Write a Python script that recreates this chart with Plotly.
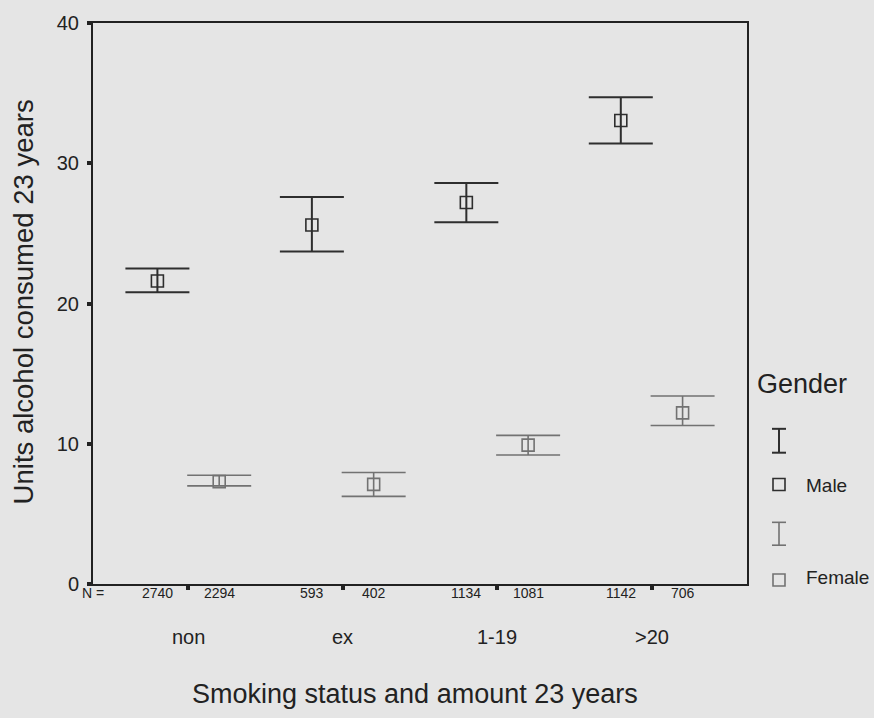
import numpy as np
import plotly.graph_objects as go

# Smoking groups and sample sizes
categories = ["non", "ex", "1-19", ">20"]
n_male = [2740, 593, 1134, 1142]
n_female = [2294, 402, 1081, 706]

# Mean units of alcohol with 95% CI bounds
male_mean = [21.6, 25.6, 27.2, 33.05]
male_lower = [20.8, 23.7, 25.8, 31.4]
male_upper = [22.5, 27.6, 28.6, 34.7]

female_mean = [7.3, 7.1, 9.9, 12.2]
female_lower = [7.0, 6.25, 9.2, 11.3]
female_upper = [7.75, 7.95, 10.6, 13.4]

y_ticks = [0, 10, 20, 30, 40]

BG = "#e5e5e5"
INK = "#222222"
MALE_C = "#2e2e2e"
FEMALE_C = "#727272"
FONT = "Liberation Sans, Arial, sans-serif"
OFFSET = 0.2

pos = np.arange(len(categories))

fig = go.Figure()


def add_series(mean, lo, hi, color, dx, name, lw):
    mean = np.array(mean)
    fig.add_trace(go.Scatter(
        x=pos + dx, y=mean, mode="markers", name=name, showlegend=False,
        marker=dict(symbol="square-open", size=12, color=color,
                    line=dict(width=1.6, color=color)),
        error_y=dict(type="data", symmetric=False,
                     array=np.array(hi) - mean,
                     arrayminus=mean - np.array(lo),
                     width=32, thickness=lw, color=color),
    ))


add_series(male_mean, male_lower, male_upper, MALE_C, -OFFSET, "Male", 2)
add_series(female_mean, female_lower, female_upper, FEMALE_C, OFFSET, "Female", 1.6)

annotations = []
# Group sizes under each error bar
annotations.append(dict(x=0, xref="paper", y=0, yref="paper", text="N =",
                        showarrow=False, xanchor="center", yanchor="middle",
                        xshift=0, yshift=-9, font=dict(size=14, color=INK)))
for i in range(len(categories)):
    for dx, n in ((-OFFSET, n_male[i]), (OFFSET, n_female[i])):
        annotations.append(dict(x=i + dx, xref="x", y=0, yref="paper",
                                text=str(n), showarrow=False,
                                yanchor="middle", yshift=-9,
                                font=dict(size=14, color=INK)))
    annotations.append(dict(x=i, xref="x", y=0, yref="paper",
                            text=categories[i], showarrow=False,
                            yanchor="middle", yshift=-53,
                            font=dict(size=20, color=INK)))

# Axis titles
annotations.append(dict(x=0.492, xref="paper", y=0, yref="paper",
                        text="Smoking status and amount 23 years",
                        showarrow=False, yanchor="middle", yshift=-110,
                        font=dict(size=27, color=INK)))
annotations.append(dict(x=0, xref="paper", y=0.502, yref="paper",
                        text="Units alcohol consumed 23 years", textangle=-90,
                        showarrow=False, xanchor="center", yanchor="middle",
                        xshift=-70, font=dict(size=27.5, color=INK)))

# Legend block
annotations.append(dict(x=1, xref="paper", y=1, yref="paper", text="Gender",
                        showarrow=False, xanchor="left", yanchor="middle",
                        xshift=8, yshift=-361, font=dict(size=27, color=INK)))
annotations.append(dict(x=1, xref="paper", y=1, yref="paper", text="Male",
                        showarrow=False, xanchor="left", yanchor="middle",
                        xshift=57, yshift=-462, font=dict(size=19, color=INK)))
annotations.append(dict(x=1, xref="paper", y=1, yref="paper", text="Female",
                        showarrow=False, xanchor="left", yanchor="middle",
                        xshift=57, yshift=-554, font=dict(size=19, color=INK)))

# Legend glyphs, given in page pixels and mapped onto the plot-area paper frame
PLOT_L, PLOT_R, PLOT_T, PLOT_B = 93, 747, 20, 584


def px(x):
    return (x - PLOT_L) / (PLOT_R - PLOT_L)


def py(y):
    return (PLOT_B - y) / (PLOT_B - PLOT_T)


shapes = []
for top, bot, sq_top, color, lw in ((428, 452, 478, MALE_C, 2),
                                    (522, 545, 574, FEMALE_C, 1.6)):
    cx = 779
    shapes.append(dict(type="line", xref="paper", yref="paper",
                       x0=px(cx), x1=px(cx), y0=py(top), y1=py(bot),
                       line=dict(color=color, width=lw)))
    for yy in (top, bot):
        shapes.append(dict(type="line", xref="paper", yref="paper",
                           x0=px(cx - 7), x1=px(cx + 7), y0=py(yy), y1=py(yy),
                           line=dict(color=color, width=lw)))
    shapes.append(dict(type="rect", xref="paper", yref="paper",
                       x0=px(cx - 6), x1=px(cx + 6), y0=py(sq_top), y1=py(sq_top + 12),
                       line=dict(color=color, width=1.6)))

fig.update_layout(
    width=874, height=718,
    margin=dict(l=PLOT_L, r=874 - PLOT_R, t=PLOT_T, b=718 - PLOT_B),
    paper_bgcolor=BG, plot_bgcolor=BG,
    font=dict(family=FONT, color=INK),
    annotations=annotations, shapes=shapes,
    showlegend=False,
)
fig.update_xaxes(range=[-0.617, 3.617], tickvals=list(pos), ticktext=[""] * 4,
                 ticks="outside", ticklen=4, tickwidth=4, tickcolor=INK,
                 showgrid=False, zeroline=False, showline=True, linewidth=2,
                 linecolor=INK, mirror=True, fixedrange=True)
fig.update_yaxes(range=[0, 40], tickvals=y_ticks, ticks="outside", ticklen=4,
                 tickwidth=4, tickcolor=INK, ticklabelstandoff=4,
                 tickfont=dict(size=20, color=INK),
                 showgrid=False, zeroline=False, showline=True, linewidth=2,
                 linecolor=INK, mirror=True, fixedrange=True)

fig.write_html("out.html")
